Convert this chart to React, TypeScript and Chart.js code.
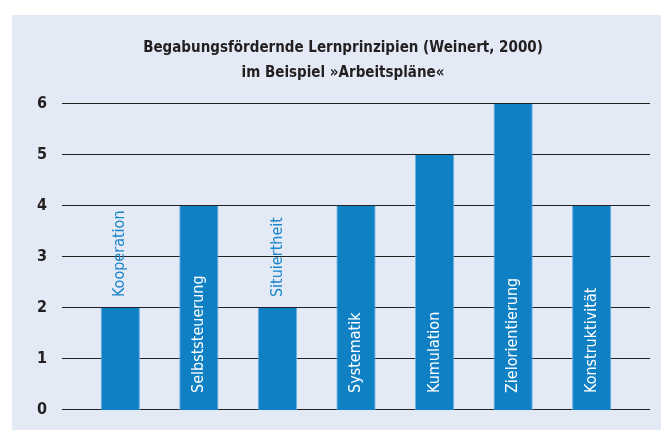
import React, { useEffect, useRef } from "react";
import { Chart, registerables } from "chart.js";

Chart.register(...registerables);

const categories = [
  "Kooperation",
  "Selbststeuerung",
  "Situiertheit",
  "Systematik",
  "Kumulation",
  "Zielorientierung",
  "Konstruktivität",
];
const values = [2, 4, 2, 4, 5, 6, 4];
const titleLines = [
  "Begabungsfördernde Lernprinzipien (Weinert, 2000)",
  "im Beispiel »Arbeitspläne«",
];
const yMin = 0;
const yMax = 6;
const yStep = 1;

const FONT = "'Liberation Sans Narrow', 'DejaVu Sans Condensed', sans-serif";
const BAR = "#1080c5";
const BAR_EDGE = "#6aaee0";
const LABEL_BLUE = "#1b86c9";
const INK = "#231f20";

const gridPlugin = {
  id: "fullGrid",
  beforeDatasetsDraw(chart: any) {
    const { ctx, chartArea } = chart;
    const y = chart.scales.y;
    const left = chartArea.left - 19;
    const right = chartArea.right + 19;
    ctx.save();
    ctx.strokeStyle = "#222222";
    ctx.lineWidth = 1;
    y.ticks.forEach((t: any) => {
      const py = Math.round(y.getPixelForValue(t.value)) - 0.5;
      ctx.beginPath();
      ctx.moveTo(left, py);
      ctx.lineTo(right, py);
      ctx.stroke();
    });
    ctx.restore();
  },
};

const barLabelPlugin = {
  id: "barLabels",
  afterDatasetsDraw(chart: any) {
    const { ctx } = chart;
    const meta = chart.getDatasetMeta(0);
    ctx.save();
    ctx.font = `16px ${FONT}`;
    ctx.textBaseline = "middle";
    ctx.textAlign = "left";
    meta.data.forEach((bar: any, i: number) => {
      const text = categories[i];
      const w = ctx.measureText(text).width;
      const height = bar.base - bar.y;
      const inside = w + 30 < height;
      ctx.save();
      if (inside) {
        ctx.translate(bar.x, bar.base - 17);
        ctx.fillStyle = "#ffffff";
      } else {
        ctx.translate(bar.x, bar.y - 11);
        ctx.fillStyle = LABEL_BLUE;
      }
      ctx.rotate(-Math.PI / 2);
      ctx.fillText(text, 0, 0);
      ctx.restore();
    });
    ctx.restore();
  },
};

export default function App() {
  const ref = useRef<HTMLCanvasElement | null>(null);

  useEffect(() => {
    if (!ref.current) return;
    const chart = new Chart(ref.current, {
      type: "bar",
      data: {
        labels: categories,
        datasets: [
          {
            data: values,
            backgroundColor: BAR,
            borderColor: BAR_EDGE,
            borderWidth: { left: 1, right: 1, top: 0, bottom: 0 },
            borderSkipped: false,
            categoryPercentage: 1,
            barPercentage: 0.5,
          },
        ],
      },
      options: {
        responsive: false,
        animation: false,
        devicePixelRatio: 1,
        layout: { padding: { left: 35, right: 10, top: 19, bottom: 20 } },
        plugins: {
          legend: { display: false },
          tooltip: { enabled: false },
          title: {
            display: true,
            text: titleLines,
            color: INK,
            font: { family: FONT, size: 15, weight: "bold", lineHeight: 1.67 },
            padding: { top: 17, bottom: 18 },
          },
        },
        scales: {
          x: { display: false, offset: true },
          y: {
            min: yMin,
            max: yMax,
            border: { display: false },
            grid: { display: false, drawTicks: true, tickLength: 30 },
            ticks: {
              stepSize: yStep,
              padding: 4,
              color: INK,
              font: { family: FONT, size: 16, weight: "bold" },
            },
            afterFit(scale: any) {
              scale.width = 46;
            },
          },
          yRight: {
            position: "right",
            min: yMin,
            max: yMax,
            border: { display: false },
            grid: { display: false, drawTicks: false },
            ticks: { display: false },
            afterFit(scale: any) {
              scale.width = 20;
            },
          },
        },
      },
      plugins: [gridPlugin, barLabelPlugin],
    });
    return () => chart.destroy();
  }, []);

  return (
    <div
      style={{
        position: "fixed",
        left: 0,
        top: 0,
        width: 661,
        height: 430,
        background: "#ffffff",
      }}
    >
      <div
        style={{
          position: "absolute",
          left: 12,
          top: 15,
          right: 0,
          bottom: 0,
          background: "#e3eaf5",
        }}
      />
      <canvas
        ref={ref}
        width={661}
        height={430}
        style={{ position: "absolute", left: 0, top: 0, width: 661, height: 430 }}
      />
    </div>
  );
}
